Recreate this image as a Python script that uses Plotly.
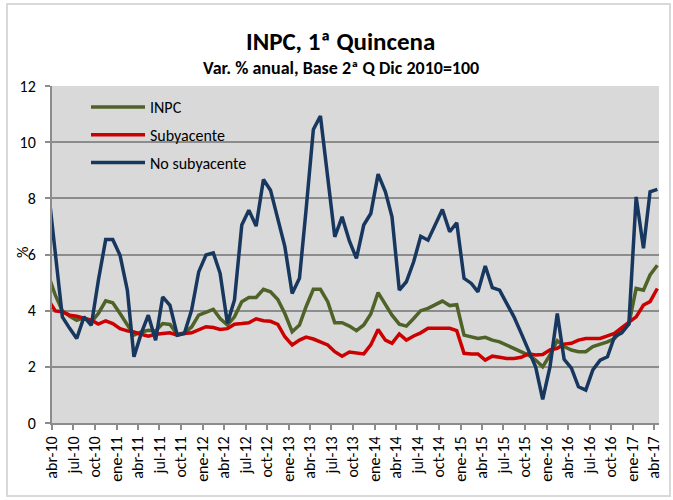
import plotly.graph_objects as go

# ---- data (first fortnight of each month, mar-10 .. abr-17) ----
start_year, start_month = 2010, 3
inpc = [5.30, 4.55, 3.99, 3.80, 3.66, 3.75, 3.60, 3.90, 4.35, 4.28, 3.90, 3.48,
        3.13, 3.24, 3.30, 3.28, 3.54, 3.51, 3.16, 3.21, 3.42, 3.84, 3.96, 4.05,
        3.72, 3.49, 3.78, 4.32, 4.47, 4.47, 4.76, 4.67, 4.40, 3.90, 3.25, 3.49,
        4.14, 4.76, 4.76, 4.32, 3.57, 3.57, 3.45, 3.29, 3.49, 3.88, 4.64, 4.20,
        3.84, 3.52, 3.45, 3.72, 4.00, 4.08, 4.23, 4.34, 4.18, 4.21, 3.13, 3.07,
        3.01, 3.05, 2.95, 2.89, 2.78, 2.66, 2.54, 2.42, 2.24, 2.00, 2.42, 2.93,
        2.72, 2.60, 2.54, 2.54, 2.72, 2.81, 2.89, 3.01, 3.31, 3.52, 4.79, 4.73,
        5.27, 5.62]
subyacente = [4.40, 3.99, 3.96, 3.84, 3.80, 3.72, 3.66, 3.52, 3.64, 3.54, 3.36, 3.28,
              3.24, 3.16, 3.09, 3.16, 3.19, 3.21, 3.13, 3.19, 3.21, 3.33, 3.43, 3.40,
              3.33, 3.36, 3.52, 3.54, 3.57, 3.71, 3.64, 3.62, 3.51, 3.07, 2.78, 2.95,
              3.06, 2.99, 2.89, 2.78, 2.54, 2.38, 2.53, 2.48, 2.46, 2.78, 3.33, 2.95,
              2.84, 3.17, 2.95, 3.10, 3.21, 3.37, 3.37, 3.36, 3.37, 3.29, 2.48, 2.46,
              2.46, 2.24, 2.38, 2.34, 2.30, 2.30, 2.34, 2.46, 2.42, 2.44, 2.60, 2.66,
              2.81, 2.84, 2.95, 3.01, 3.01, 3.01, 3.10, 3.19, 3.40, 3.57, 3.78, 4.20,
              4.32, 4.79]
no_subyacente = [8.40, 5.90, 3.78, 3.37, 3.01, 3.78, 3.48, 5.08, 6.53, 6.53, 5.97, 4.73,
                 2.36, 3.19, 3.84, 2.95, 4.49, 4.19, 3.13, 3.19, 4.02, 5.38, 5.98, 6.06,
                 5.33, 3.55, 4.38, 7.05, 7.58, 7.01, 8.67, 8.29, 7.22, 6.28, 4.61, 5.15,
                 7.58, 10.45, 10.93, 8.70, 6.63, 7.34, 6.48, 5.86, 7.05, 7.46, 8.86, 8.23,
                 7.34, 4.73, 5.03, 5.74, 6.65, 6.51, 7.05, 7.60, 6.81, 7.13, 5.15, 4.97,
                 4.67, 5.59, 4.82, 4.73, 4.26, 3.78, 3.19, 2.60, 2.00, 0.84, 2.00, 3.90,
                 2.27, 1.95, 1.29, 1.17, 1.89, 2.24, 2.36, 3.07, 3.21, 3.52, 8.05, 6.22,
                 8.23, 8.32]
tick_labels = ["abr-10", "jul-10", "oct-10", "ene-11", "abr-11", "jul-11", "oct-11",
               "ene-12", "abr-12", "jul-12", "oct-12", "ene-13", "abr-13", "jul-13",
               "oct-13", "ene-14", "abr-14", "jul-14", "oct-14", "ene-15", "abr-15",
               "jul-15", "oct-15", "ene-16", "abr-16", "jul-16", "oct-16", "ene-17",
               "abr-17"]

def month_date(k, day):
    y = start_year + (start_month - 1 + k) // 12
    m = (start_month - 1 + k) % 12 + 1
    return f"{y}-{m:02d}-{day:02d}"

dates = [month_date(k, 15) for k in range(len(inpc))]
tick_vals = [month_date(1 + 3 * k, 1) for k in range(len(tick_labels))]

FONT = "Calibri, Carlito, Lato, sans-serif"
W, H = 673, 500
L, R, T, B = 52, 14, 86, 77
pw, ph = W - L - R, H - T - B

def px(x):
    return (x - L) / pw

def py(y):
    return (H - B - y) / ph

fig = go.Figure()
series = [("INPC", inpc, "#4f6228"), ("Subyacente", subyacente, "#cc0000"),
          ("No subyacente", no_subyacente, "#17375e")]
for name, vals, col in series:
    fig.add_trace(go.Scatter(x=dates, y=vals, mode="lines", name=name, legendgroup=name,
                             line=dict(color=col, width=3.5)))

fig.update_layout(
    width=W, height=H,
    margin=dict(l=L, r=R, t=T, b=B, autoexpand=False),
    paper_bgcolor="white", plot_bgcolor="#d9d9d9",
    font=dict(family=FONT, size=14, color="#000000"),
    showlegend=True,
    legend=dict(x=px(86), y=py(90), xanchor="left", yanchor="top",
                bgcolor="rgba(0,0,0,0)", font=dict(size=16, family=FONT),
                traceorder="grouped", tracegroupgap=4, itemwidth=54),
    xaxis=dict(type="date", range=["2010-04-01", "2017-04-22"],
               tickvals=tick_vals, ticktext=tick_labels, tickangle=-90,
               ticks="outside", ticklen=5, tickcolor="#8c8c8c", tickwidth=1.5,
               showgrid=False, showline=True, linecolor="#8c8c8c", linewidth=2,
               tickfont=dict(size=16, family=FONT), automargin=False),
    yaxis=dict(range=[0, 12], dtick=2, tick0=0,
               ticks="outside", ticklen=5, tickcolor="#8c8c8c", tickwidth=1.5,
               showgrid=True, gridcolor="#8c8c8c", gridwidth=2,
               zeroline=False, showline=True, linecolor="#8c8c8c", linewidth=2,
               tickfont=dict(size=16, family=FONT), ticklabelstandoff=6,
               automargin=False),
    annotations=[
        dict(text="<b>INPC, 1ª Quincena</b>", xref="paper", yref="paper",
             x=px(340), y=py(42), xanchor="center", yanchor="middle", showarrow=False,
             font=dict(size=25, family=FONT)),
        dict(text="<b>Var. % anual, Base 2ª Q Dic 2010=100</b>", xref="paper", yref="paper",
             x=px(341), y=py(68), xanchor="center", yanchor="middle", showarrow=False,
             font=dict(size=18, family=FONT)),
        dict(text="%", xref="paper", yref="paper", x=px(22), y=py(253),
             xanchor="center", yanchor="middle", showarrow=False, textangle=-90,
             font=dict(size=16, family=FONT)),
    ],
    shapes=[
        dict(type="rect", xref="paper", yref="paper", x0=px(7), x1=px(670),
             y0=py(496), y1=py(4), line=dict(color="#d9d9d9", width=2), layer="below"),
    ],
)

fig.write_html("out.html", config={"displayModeBar": False},
               post_script="document.body.style.margin='0';document.body.style.padding='0';")
